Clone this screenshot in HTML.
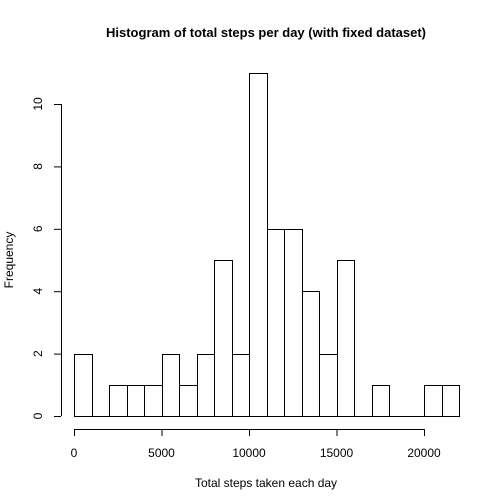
<!DOCTYPE html>
<html><head><meta charset="utf-8"><style>body{margin:0;background:#fff}svg{display:block;font-family:"Liberation Sans",Arial,sans-serif}</style></head>
<body>
<svg id="chart" width="504" height="504" viewBox="0 0 504 504">
<rect width="504" height="504" fill="#fff"/>
<text x="266" y="37" text-anchor="middle" font-size="13" font-weight="bold">Histogram of total steps per day (with fixed dataset)</text>
<text x="266" y="487" text-anchor="middle" font-size="12">Total steps taken each day</text>
<text transform="translate(13,260) rotate(-90)" text-anchor="middle" font-size="12">Frequency</text>
<g id="bars"></g><g id="axes"></g>
</svg>
<script>
const binStarts=[0,1000,2000,3000,4000,5000,6000,7000,8000,9000,10000,11000,12000,13000,14000,15000,16000,17000,18000,19000,20000,21000];
const counts=[2,0,1,1,1,2,1,2,5,2,11,6,6,4,2,5,0,1,0,0,1,1];
const binWidth=1000;
const xTicks=[0,5000,10000,15000,20000];
const yTicks=[0,2,4,6,8,10];
const NS="http://www.w3.org/2000/svg";
function sx(v){return 74+v*350/20000;}
function sy(v){return 416-v*31.2;}
function mk(t,a,p){const e=document.createElementNS(NS,t);for(const k in a)e.setAttribute(k,a[k]);p.appendChild(e);return e;}
const bars=document.getElementById('bars'),axes=document.getElementById('axes');
binStarts.forEach((b,i)=>{
 const x0=Math.round(sx(b))+0.5,x1=Math.round(sx(b+binWidth))+0.5,y0=Math.round(sy(0))+0.5,y1=Math.round(sy(counts[i]))+0.5;
 const r=mk('path',{d:`M${x0},${y0}L${x0},${y1}L${x1},${y1}L${x1},${y0}Z`,fill:'#fff',stroke:'#000','stroke-width':1},bars);
 
 
});
const xl=mk('line',{x1:sx(xTicks[0]),x2:sx(xTicks[xTicks.length-1]),y1:429.5,y2:429.5,stroke:'#000'},axes);


xTicks.forEach(t=>{
 mk('line',{x1:sx(t)+0.5,x2:sx(t)+0.5,y1:429,y2:436,stroke:'#000'},axes);
 const tx=mk('text',{x:sx(t),y:457,'text-anchor':'middle','font-size':12},axes);tx.textContent=t;
 
 
});
const yl=mk('line',{x1:61.5,x2:61.5,y1:sy(yTicks[0]),y2:sy(yTicks[yTicks.length-1]),stroke:'#000'},axes);


yTicks.forEach(t=>{
 mk('line',{x1:54,x2:61,y1:sy(t)+0.5,y2:sy(t)+0.5,stroke:'#000'},axes);
 const tx=mk('text',{transform:`translate(42,${sy(t)}) rotate(-90)`,'text-anchor':'middle','font-size':12},axes);tx.textContent=t;
 
 
});
</script>
</body></html>
